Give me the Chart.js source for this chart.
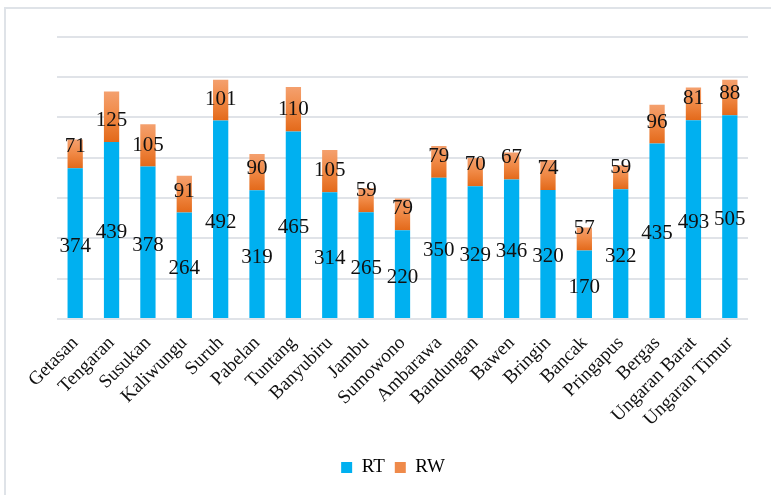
<!DOCTYPE html>
<html><head><meta charset="utf-8">
<script src="https://cdn.jsdelivr.net/npm/chart.js@4.4.1/dist/chart.umd.min.js"></script>
<style>html,body{margin:0;padding:0;background:#fff}#wrap{position:relative;width:771px;height:495px}</style>
</head><body><div id="wrap"><canvas id="c" width="771" height="495"></canvas></div>
<script>
const categories = ['Getasan','Tengaran','Susukan','Kaliwungu','Suruh','Pabelan','Tuntang','Banyubiru','Jambu','Sumowono','Ambarawa','Bandungan','Bawen','Bringin','Bancak','Pringapus','Bergas','Ungaran Barat','Ungaran Timur'];
const rtValues = [374,439,378,264,492,319,465,314,265,220,350,329,346,320,170,322,435,493,505];
const rwValues = [71,125,105,91,101,90,110,105,59,79,79,70,67,74,57,59,96,81,88];
const seriesNames = ['RT','RW'];
const yMin = 0, yMax = 700, yStep = 100;

const SERIF = "'Liberation Serif', 'Times New Roman', serif";
const PAD_BOTTOM = 8;
const AXIS_Y = 319;

function rwGradient(ctx) {
  const chart = ctx.chart;
  const y = chart.scales && chart.scales.y;
  if (!chart.chartArea || !y || ctx.dataIndex === undefined) return '#EF8A4A';
  const i = ctx.dataIndex;
  const top = y.getPixelForValue(rtValues[i] + rwValues[i]);
  const bot = y.getPixelForValue(rtValues[i]);
  const g = chart.ctx.createLinearGradient(0, top, 0, bot);
  g.addColorStop(0, '#F4A06E');
  g.addColorStop(0.5, '#F08844');
  g.addColorStop(1, '#E3691A');
  return g;
}

const framePlugin = {
  id: 'frame',
  beforeDraw(chart) {
    const c = chart.ctx;
    c.save();
    c.fillStyle = '#fff';
    c.fillRect(0, 0, chart.width, chart.height);
    c.strokeStyle = '#dfe3e8';
    c.lineWidth = 2;
    c.beginPath();
    c.moveTo(5, chart.height);
    c.lineTo(5, 8);
    c.lineTo(chart.width, 8);
    c.stroke();
    c.restore();
  }
};

const labelPlugin = {
  id: 'segLabels',
  afterDatasetsDraw(chart) {
    const c = chart.ctx;
    c.save();
    c.font = '21px ' + SERIF;
    c.fillStyle = '#111';
    c.textAlign = 'center';
    c.textBaseline = 'alphabetic';
    const m0 = chart.getDatasetMeta(0), m1 = chart.getDatasetMeta(1);
    m0.data.forEach((el, i) => {
      c.fillText(String(rtValues[i]), el.x, (el.y + el.base) / 2 + 8.5);
    });
    m1.data.forEach((el, i) => {
      c.fillText(String(rwValues[i]), el.x, el.base - 16);
    });
    c.restore();
  }
};

new Chart(document.getElementById('c'), {
  type: 'bar',
  data: {
    labels: categories,
    datasets: [
      { label: seriesNames[0], data: rtValues, backgroundColor: '#00B0F0', categoryPercentage: 1, barPercentage: 0.42 },
      { label: seriesNames[1], data: rwValues, backgroundColor: rwGradient, categoryPercentage: 1, barPercentage: 0.42 }
    ]
  },
  options: {
    responsive: false,
    devicePixelRatio: 1,
    animation: false,
    events: [],
    layout: { padding: { left: 38, right: 23, top: 36.7, bottom: PAD_BOTTOM } },
    scales: {
      x: {
        stacked: true,
        grid: { display: false, drawTicks: false },
        border: { display: false },
        ticks: {
          autoSkip: false, maxRotation: 45, minRotation: 45, padding: 13,
          color: '#111', font: { family: SERIF, size: 19 }
        },
        afterFit(scale) {
          const lg = scale.chart.legend;
          const lh = lg ? lg.height : 43;
          scale.height = scale.chart.height - PAD_BOTTOM - lh - AXIS_Y;
        }
      },
      y: {
        stacked: true,
        min: yMin, max: yMax,
        ticks: { display: false, stepSize: yStep },
        grid: { color: '#e0e3e8', lineWidth: 2, drawTicks: false },
        border: { display: false },
        afterFit(scale) { scale.width = 19; }
      }
    },
    plugins: {
      legend: {
        position: 'bottom',
        labels: {
          boxWidth: 11, boxHeight: 11, padding: 10,
          color: '#111', font: { family: SERIF, size: 19 },
          generateLabels(chart) {
            return [
              { text: seriesNames[0], fillStyle: '#00B0F0', strokeStyle: '#00B0F0', lineWidth: 0, datasetIndex: 0 },
              { text: seriesNames[1], fillStyle: '#EF8A4A', strokeStyle: '#EF8A4A', lineWidth: 0, datasetIndex: 1 }
            ];
          }
        }
      },
      tooltip: { enabled: false }
    }
  },
  plugins: [framePlugin, labelPlugin]
});
</script>
</body></html>
